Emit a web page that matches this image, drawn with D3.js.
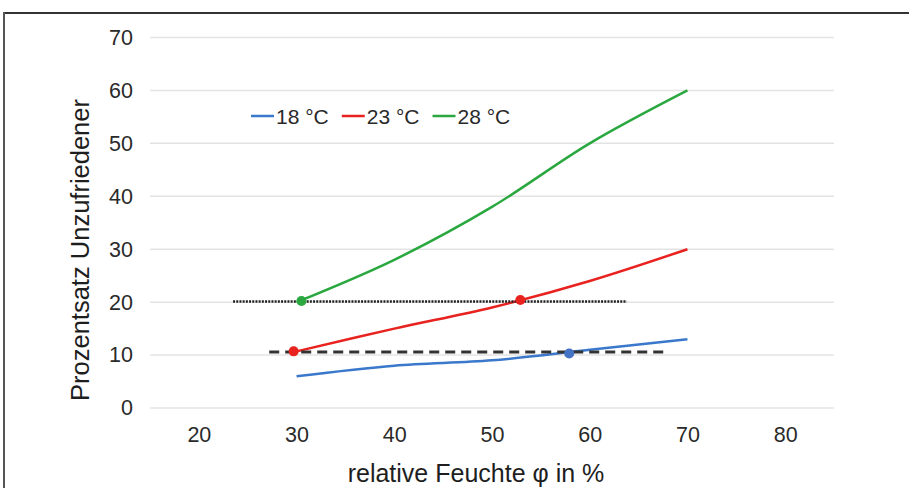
<!DOCTYPE html>
<html>
<head>
<meta charset="utf-8">
<script src="https://cdn.jsdelivr.net/npm/d3@7"></script>
<style>
  html, body { margin: 0; padding: 0; background: #fff; }
  svg { display: block; font-family: "Liberation Sans", Arial, sans-serif; }
</style>
</head>
<body>
<svg id="chart" width="909" height="488"></svg>
<script>
// Relative humidity (%) at which each curve is sampled
const humidity = [30, 40, 50, 60, 70];

// Percentage of dissatisfied occupants per air temperature
const series18 = [6, 8, 9, 11, 13];
const series23 = [10.7, 15, 19, 24, 30];
const series28 = [20, 28, 38, 50, 60];

const seriesNames = ["18 °C", "23 °C", "28 °C"];
const seriesColors = ["#3A78CC", "#E8221E", "#2AA83F"];

// Axis ticks
const xTicks = [20, 30, 40, 50, 60, 70, 80];
const yTicks = [0, 10, 20, 30, 40, 50, 60, 70];

// Reference levels (x from, x to, y)
const dottedRef = [23.5, 63.8, 20.1];
const dashedRef = [27.2, 67.6, 10.6];

// Highlighted crossing points [x, y, series index]
const markers = [[30.5, 20.2, 2], [29.7, 10.7, 1], [52.9, 20.4, 1], [57.9, 10.3, 0]];

const xTitle = "relative Feuchte φ in %";
const yTitle = "Prozentsatz Unzufriedener";

const svg = d3.select("#chart");

const x = d3.scaleLinear().domain([15, 85]).range([150, 834]);
const y = d3.scaleLinear().domain([0, 70]).range([408, 37.5]);

// outer frame (top and left edges)
svg.append("line").attr("x1", 3).attr("x2", 909).attr("y1", 13).attr("y2", 13)
  .attr("stroke", "#333").attr("stroke-width", 2);
svg.append("line").attr("x1", 4).attr("x2", 4).attr("y1", 12).attr("y2", 488)
  .attr("stroke", "#555").attr("stroke-width", 2);

// horizontal gridlines
svg.append("g").selectAll("line").data(yTicks).join("line")
  .attr("x1", x(15)).attr("x2", x(85))
  .attr("y1", d => y(d)).attr("y2", d => y(d))
  .attr("stroke", "#e3e3e3").attr("stroke-width", 1.5);

// y axis labels
const yAxis = d3.axisLeft(y).tickValues(yTicks).tickSize(0).tickPadding(0);
const gy = svg.append("g").attr("transform", "translate(133,0)").call(yAxis);
gy.select(".domain").remove();
gy.selectAll("text").attr("font-size", 21.5).attr("fill", "#2a2a2a")
  .attr("font-family", "Liberation Sans, Arial, sans-serif");

// x axis labels
const xAxis = d3.axisBottom(x).tickValues(xTicks).tickSize(0).tickPadding(0);
const gx = svg.append("g").attr("transform", "translate(0,427)").call(xAxis);
gx.select(".domain").remove();
gx.selectAll("text").attr("font-size", 21.5).attr("fill", "#2a2a2a")
  .attr("font-family", "Liberation Sans, Arial, sans-serif");

// axis titles
svg.append("text").attr("x", 476).attr("y", 482).attr("text-anchor", "middle")
  .attr("font-size", 25).attr("fill", "#1e1e1e").text(xTitle);
svg.append("text").attr("transform", "translate(89,250) rotate(-90)")
  .attr("text-anchor", "middle").attr("font-size", 25.5).attr("fill", "#1e1e1e").text(yTitle);

// data lines
const allSeries = [series18, series23, series28];
const line = d3.line()
  .x((d, i) => x(humidity[i]))
  .y(d => y(d))
  .curve(d3.curveCatmullRom.alpha(0.5));

svg.append("g").selectAll("path").data(allSeries).join("path")
  .attr("d", d => line(d))
  .attr("fill", "none")
  .attr("stroke", (d, i) => seriesColors[i])
  .attr("stroke-width", 2.5);

// reference lines
svg.append("line")
  .attr("x1", x(dottedRef[0])).attr("x2", x(dottedRef[1]))
  .attr("y1", y(dottedRef[2])).attr("y2", y(dottedRef[2]))
  .attr("stroke", "#222").attr("stroke-width", 2.5)
  .attr("stroke-dasharray", "2,1.2");
svg.append("line")
  .attr("x1", x(dashedRef[0])).attr("x2", x(dashedRef[1]))
  .attr("y1", y(dashedRef[2])).attr("y2", y(dashedRef[2]))
  .attr("stroke", "#333").attr("stroke-width", 3)
  .attr("stroke-dasharray", "10,6");

// crossing markers
svg.append("g").selectAll("circle").data(markers).join("circle")
  .attr("cx", d => x(d[0])).attr("cy", d => y(d[1])).attr("r", 5)
  .attr("fill", d => d[2] === 0 ? "#4472C4" : seriesColors[d[2]]);

// legend
const legend = svg.append("g").attr("transform", "translate(251,116)");
let lx = 0;
seriesNames.forEach((name, i) => {
  const g = legend.append("g").attr("transform", `translate(${lx},0)`);
  g.append("line").attr("x1", 0).attr("x2", 23).attr("y1", 0).attr("y2", 0)
    .attr("stroke", seriesColors[i]).attr("stroke-width", 2.5);
  const t = g.append("text").attr("x", 25).attr("y", 7.5)
    .attr("font-size", 21).attr("fill", "#2a2a2a").text(name);
  lx += 25 + t.node().getComputedTextLength() + 13;
});
</script>
</body>
</html>
